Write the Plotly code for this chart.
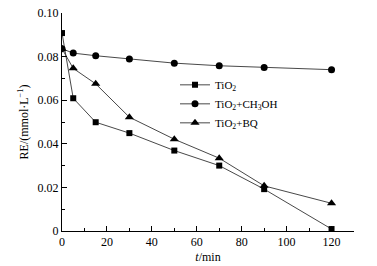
import plotly.graph_objects as go

t = [0, 5, 15, 30, 50, 70, 90, 120]
tio2 = [0.0908, 0.0609, 0.0499, 0.0449, 0.0369, 0.0300, 0.0192, 0.0009]
tio2_ch3oh = [0.0836, 0.0816, 0.0804, 0.0789, 0.0770, 0.0758, 0.0750, 0.0740]
tio2_bq = [0.0836, 0.0746, 0.0675, 0.0522, 0.0421, 0.0334, 0.0207, 0.0127]
names = ["TiO<sub>2</sub>", "TiO<sub>2</sub>+CH<sub>3</sub>OH", "TiO<sub>2</sub>+BQ"]
symbols = ["square", "circle", "triangle-up"]
sizes = [6, 7, 8]
ytickvals = [0, 0.02, 0.04, 0.06, 0.08, 0.10]
yticktext = ["0", "0.02", "0.04", "0.06", "0.08", "0.10"]
xtickvals = [0, 20, 40, 60, 80, 100, 120]

FONT = "Liberation Serif"
fig = go.Figure()
for name, ys, sym, sz in zip(names, [tio2, tio2_ch3oh, tio2_bq], symbols, sizes):
    fig.add_trace(go.Scatter(
        x=t, y=ys, name=name, mode="lines+markers",
        line=dict(color="#333333", width=0.9),
        marker=dict(symbol=sym, size=sz, color="black"),
    ))

axis_common = dict(
    showline=True, linecolor="black", linewidth=1, mirror=False,
    showgrid=False, zeroline=False, automargin=False,
    ticks="inside", ticklen=5, tickcolor="black", tickwidth=1,
    tickfont=dict(family=FONT, size=12, color="black"),
)
fig.update_xaxes(
    range=[0, 130], tickvals=xtickvals,
    minor=dict(dtick=10, ticks="inside", ticklen=3, tickcolor="black"),
    title=dict(text="<i>t</i>/min", font=dict(family=FONT, size=12, color="black"), standoff=4),
    **axis_common,
)
fig.update_yaxes(
    range=[0, 0.10], tickvals=ytickvals, ticktext=yticktext,
    minor=dict(dtick=0.01, ticks="inside", ticklen=3, tickcolor="black"),
    title=dict(text="RE/(mmol·L<sup>−1</sup>)", font=dict(family=FONT, size=12, color="black"), standoff=6),
    **axis_common,
)
fig.update_layout(
    width=377, height=266,
    margin=dict(l=62, r=23, t=13, b=35),
    plot_bgcolor="white", paper_bgcolor="white",
    font=dict(family=FONT, size=12, color="black"),
    legend=dict(x=0.387, y=0.737, xanchor="left", yanchor="top",
                bgcolor="rgba(0,0,0,0)", font=dict(family=FONT, size=11),
                itemwidth=30, tracegroupgap=0),
    showlegend=True,
)
fig.write_html("out.html", config={"displayModeBar": False},
               post_script="document.body.style.margin='0';")
